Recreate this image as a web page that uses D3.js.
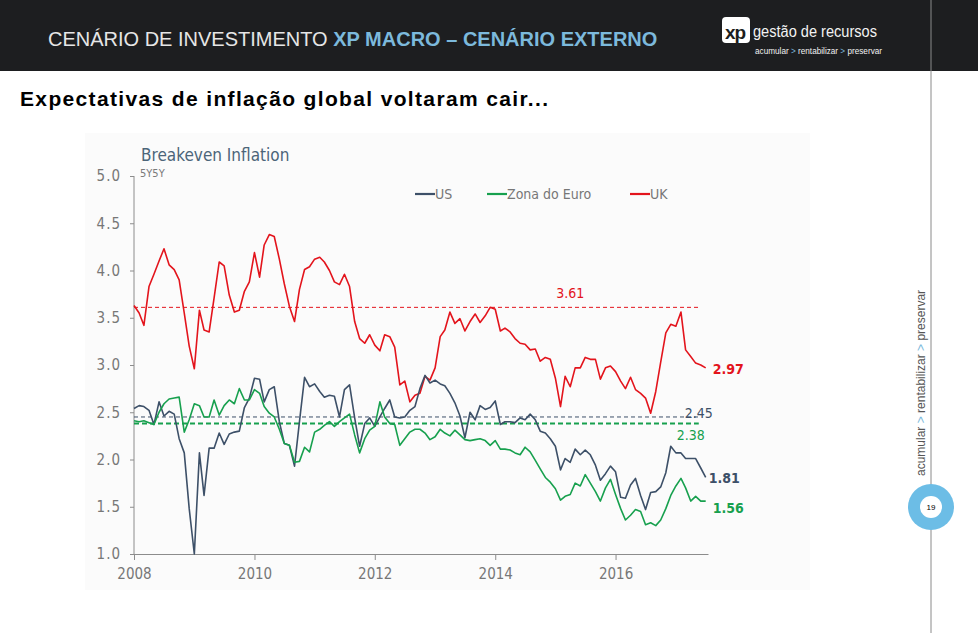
<!DOCTYPE html>
<html>
<head>
<meta charset="utf-8">
<script src="https://cdn.jsdelivr.net/npm/d3@7/dist/d3.min.js"></script>
<style>
  html, body { margin: 0; padding: 0; background: #ffffff; }
  svg { display: block; }
</style>
</head>
<body>
<svg id="chart" width="978" height="633"></svg>
<script>
// ---------------- DATA ----------------
const seriesNames = ["US", "Zona do Euro", "UK"];
const startMonth = "2008-01";           // monthly observations from Jan 2008
const yTicks = [1.0, 1.5, 2.0, 2.5, 3.0, 3.5, 4.0, 4.5, 5.0];
const xTickYears = [2008, 2010, 2012, 2014, 2016];

const usValues = [2.54,2.57,2.56,2.52,2.37,2.61,2.46,2.51,2.48,2.22,
2.07,1.48,1.00,2.07,1.62,2.12,2.12,2.28,2.16,2.27,
2.29,2.30,2.55,2.65,2.86,2.85,2.61,2.74,2.77,2.40,
2.17,2.15,1.93,2.40,2.87,2.77,2.80,2.72,2.66,2.68,
2.67,2.45,2.74,2.79,2.44,2.14,2.38,2.44,2.35,2.45,
2.54,2.63,2.45,2.44,2.45,2.52,2.56,2.75,2.89,2.81,
2.84,2.80,2.78,2.70,2.60,2.46,2.23,2.50,2.42,2.57,
2.53,2.55,2.62,2.37,2.40,2.40,2.39,2.44,2.42,2.48,
2.42,2.30,2.28,2.22,2.14,1.89,2.01,1.97,2.11,2.05,
2.10,2.05,1.94,1.78,1.85,1.93,1.87,1.60,1.59,1.73,
1.80,1.62,1.47,1.65,1.66,1.71,1.86,2.14,2.07,2.07,
2.01,2.01,2.01,1.91,1.81];

const euroValues = [2.41,2.40,2.41,2.39,2.37,2.50,2.59,2.64,2.65,2.66,
2.29,2.42,2.59,2.57,2.45,2.45,2.63,2.47,2.57,2.63,
2.59,2.75,2.63,2.63,2.74,2.70,2.56,2.49,2.45,2.32,
2.17,2.15,1.97,1.98,2.13,2.08,2.29,2.32,2.36,2.40,
2.35,2.40,2.44,2.48,2.26,2.07,2.22,2.31,2.35,2.61,
2.45,2.38,2.37,2.15,2.22,2.29,2.32,2.32,2.28,2.21,
2.24,2.32,2.28,2.25,2.31,2.26,2.21,2.20,2.21,2.22,
2.20,2.15,2.20,2.11,2.11,2.10,2.07,2.05,2.13,2.08,
1.99,1.90,1.81,1.76,1.69,1.57,1.61,1.63,1.75,1.72,
1.84,1.75,1.66,1.56,1.70,1.79,1.63,1.48,1.36,1.41,
1.47,1.45,1.31,1.33,1.30,1.36,1.48,1.62,1.72,1.80,
1.70,1.56,1.61,1.56,1.56];

const ukValues = [3.63,3.55,3.42,3.83,3.96,4.10,4.23,4.06,4.01,3.90,
3.55,3.20,2.96,3.58,3.37,3.35,3.71,4.09,4.05,3.74,
3.56,3.58,3.78,3.88,4.19,3.93,4.27,4.38,4.36,4.12,
3.86,3.62,3.46,3.80,4.01,4.04,4.12,4.14,4.09,4.00,
3.88,3.85,3.96,3.83,3.46,3.28,3.23,3.32,3.21,3.15,
3.32,3.30,3.19,2.79,2.83,2.61,2.68,2.70,2.88,2.84,
2.97,3.30,3.37,3.56,3.44,3.49,3.36,3.46,3.54,3.45,
3.52,3.61,3.59,3.36,3.39,3.35,3.28,3.23,3.22,3.16,
3.17,3.04,3.08,3.06,2.86,2.56,2.88,2.77,2.97,2.97,
3.08,3.06,3.06,2.85,2.97,2.99,2.93,2.83,2.75,2.87,
2.74,2.70,2.65,2.49,2.72,3.03,3.34,3.43,3.41,3.56,
3.16,3.09,3.02,3.00,2.97];

const meanValues = [2.45, 2.38, 3.61];   // US, Zona do Euro, UK averages
const lastLabels = ["1.81", "1.56", "2.97"];
const taglineParts = ["acumular ", ">", " rentabilizar ", ">", " preservar"];

// ---------------- STYLE ----------------
const colors = ["#3d5068", "#17a04e", "#e3141c"];
const accent = "#7cb9dc";
const chartFont = "'DejaVu Sans Condensed', 'DejaVu Sans', sans-serif";
const narrowFont = "'Liberation Sans Narrow', 'Liberation Sans', sans-serif";

const svg = d3.select("#chart");

// ---------- page header ----------
svg.append("rect").attr("x", 0).attr("y", 0).attr("width", 978).attr("height", 71).attr("fill", "#1d1e20");

const head = svg.append("text").attr("x", 48).attr("y", 46)
  .attr("font-family", "'Liberation Sans', Arial, sans-serif").attr("font-size", 20)
  .attr("fill", "#e6e6e6");
head.append("tspan").text("CENÁRIO DE INVESTIMENTO ");
head.append("tspan").attr("font-weight", "bold").attr("fill", accent).text("XP MACRO – CENÁRIO EXTERNO");

// logo
svg.append("rect").attr("x", 722).attr("y", 17).attr("width", 28).attr("height", 26).attr("rx", 4).attr("fill", "#ffffff");
svg.append("text").attr("x", 725).attr("y", 39).attr("font-family", "'Liberation Sans', Arial, sans-serif")
  .attr("font-weight", "bold").attr("font-size", 19).attr("fill", "#1d1e20").attr("letter-spacing", -1).text("xp");
svg.append("text").attr("x", 753).attr("y", 37).attr("font-family", narrowFont)
  .attr("font-size", 16).attr("fill", "#f2f2f2").attr("textLength", 124).attr("lengthAdjust", "spacingAndGlyphs")
  .text("gestão de recursos");
const tag = svg.append("text").attr("x", 755).attr("y", 54).attr("font-family", narrowFont)
  .attr("font-size", 8.2).attr("fill", "#f2f2f2");
taglineParts.forEach(p => tag.append("tspan").attr("fill", p === ">" ? accent : null).text(p));

// right vertical rule + page marker
svg.append("line").attr("x1", 931).attr("x2", 931).attr("y1", 0).attr("y2", 633).attr("stroke", "#8a8a8a").attr("stroke-width", 1);
const side = svg.append("text").attr("transform", "translate(925,476) rotate(-90)")
  .attr("font-family", narrowFont).attr("font-size", 12).attr("fill", "#555");
taglineParts.forEach(p => side.append("tspan").attr("fill", p === ">" ? accent : null).text(p));
svg.append("circle").attr("cx", 931).attr("cy", 507).attr("r", 23).attr("fill", "#6cbde6");
svg.append("circle").attr("cx", 931).attr("cy", 507).attr("r", 11).attr("fill", "#ffffff");
svg.append("text").attr("x", 931).attr("y", 510).attr("text-anchor", "middle")
  .attr("font-family", "'Liberation Sans', Arial, sans-serif").attr("font-size", 8).attr("fill", "#000").text("19");

// subtitle
svg.append("text").attr("x", 20).attr("y", 106)
  .attr("font-family", "'Liberation Sans', Arial, sans-serif").attr("font-weight", "bold").attr("font-size", 21)
  .attr("fill", "#000").attr("textLength", 528).attr("lengthAdjust", "spacing")
  .text("Expectativas de inflação global voltaram cair...");

// ---------- chart image area ----------
svg.append("rect").attr("x", 85).attr("y", 133).attr("width", 725).attr("height", 457).attr("fill", "#fbfbfb");

const parseMonth = d3.timeParse("%Y-%m");
const start = parseMonth(startMonth);
const dates = usValues.map((_, i) => d3.timeMonth.offset(start, i));

const x = d3.scaleTime().domain([new Date(2008, 0, 1), new Date(2017, 6, 15)]).range([134, 708]);
const y = d3.scaleLinear().domain([1.0, 5.0]).range([554, 176]);

const g = svg.append("g");

// title
g.append("text").attr("x", 141).attr("y", 161).attr("font-family", chartFont).attr("font-size", 17)
  .attr("fill", "#4c6579").text("Breakeven Inflation");
g.append("text").attr("x", 140).attr("y", 177).attr("font-family", chartFont).attr("font-size", 11)
  .attr("fill", "#7a7a7a").text("5Y5Y");

// y axis
const yAxis = g.append("g").attr("transform", "translate(134,0)")
  .call(d3.axisLeft(y).tickValues(yTicks).tickFormat(d3.format(".1f")).tickSize(4).tickPadding(9));
yAxis.select(".domain").attr("stroke", "#8c8c8c").attr("d", `M0,${y(5)}V${y(1)}`);
yAxis.selectAll(".tick line").attr("stroke", "#8c8c8c");
yAxis.selectAll(".tick text").attr("font-family", chartFont).attr("font-size", 15).attr("fill", "#777")
  .attr("letter-spacing", 1);

// x axis
const xAxis = g.append("g").attr("transform", `translate(0,${y(1)})`)
  .call(d3.axisBottom(x).tickValues(xTickYears.map(v => new Date(v, 0, 1))).tickFormat(d3.timeFormat("%Y"))
    .tickSizeInner(6).tickSizeOuter(0).tickPadding(8));
xAxis.select(".domain").attr("stroke", "#8c8c8c");
xAxis.selectAll(".tick line").attr("stroke", "#8c8c8c");
xAxis.selectAll(".tick text").attr("font-family", chartFont).attr("font-size", 15).attr("fill", "#777");

// mean dashed lines
const meanEnd = new Date(2017, 4, 20);
const meanStyles = [
  { w: 1, dash: "4,3" },
  { w: 2, dash: "5,3" },
  { w: 1, dash: "4,3" }
];
meanValues.forEach((m, k) => {
  g.append("line").attr("x1", x(new Date(2008, 0, 1))).attr("x2", x(meanEnd))
    .attr("y1", y(m)).attr("y2", y(m)).attr("stroke", colors[k])
    .attr("stroke-width", meanStyles[k].w).attr("stroke-dasharray", meanStyles[k].dash);
});

// series lines
const allValues = [usValues, euroValues, ukValues];
const line = d3.line().x((d, i) => x(dates[i])).y(d => y(Math.max(d, 1.0)));
[2, 0, 1].forEach(k => {
  g.append("path").datum(allValues[k]).attr("d", line)
    .attr("fill", "none").attr("stroke", colors[k]).attr("stroke-width", 1.6).attr("stroke-linejoin", "round");
});

// mean labels
const lblFont = { family: chartFont, size: 14 };
g.append("text").attr("x", x(new Date(2015, 3, 1))).attr("y", y(3.61) - 9).attr("text-anchor", "middle")
  .attr("font-family", lblFont.family).attr("font-size", lblFont.size).attr("fill", colors[2]).text(meanValues[2].toFixed(2));
g.append("text").attr("x", x(meanEnd) + 14).attr("y", y(2.45) + 1).attr("text-anchor", "end")
  .attr("font-family", lblFont.family).attr("font-size", lblFont.size).attr("fill", colors[0]).text(meanValues[0].toFixed(2));
g.append("text").attr("x", x(meanEnd) + 6).attr("y", y(2.38) + 16).attr("text-anchor", "end")
  .attr("font-family", lblFont.family).attr("font-size", lblFont.size).attr("fill", colors[1]).text(meanValues[1].toFixed(2));

// last-value labels
const lastDate = dates[dates.length - 1];
const lastOffsets = [[3, 6], [7, 12], [7, 6]];
[0, 1, 2].forEach(k => {
  const vals = allValues[k];
  g.append("text").attr("x", x(lastDate) + lastOffsets[k][0]).attr("y", y(vals[vals.length - 1]) + lastOffsets[k][1])
    .attr("font-family", lblFont.family).attr("font-size", lblFont.size).attr("font-weight", "bold")
    .attr("fill", colors[k]).text(lastLabels[k]);
});

// legend
const legendX = [415, 487, 630];
seriesNames.forEach((name, k) => {
  const lg = g.append("g").attr("transform", `translate(${legendX[k]},194)`);
  lg.append("line").attr("x1", 0).attr("x2", 20).attr("y1", 0).attr("y2", 0).attr("stroke", colors[k]).attr("stroke-width", 2.2);
  lg.append("text").attr("x", 20).attr("y", 5).attr("font-family", chartFont).attr("font-size", 14)
    .attr("fill", "#777").text(name);
});
</script>
</body>
</html>
